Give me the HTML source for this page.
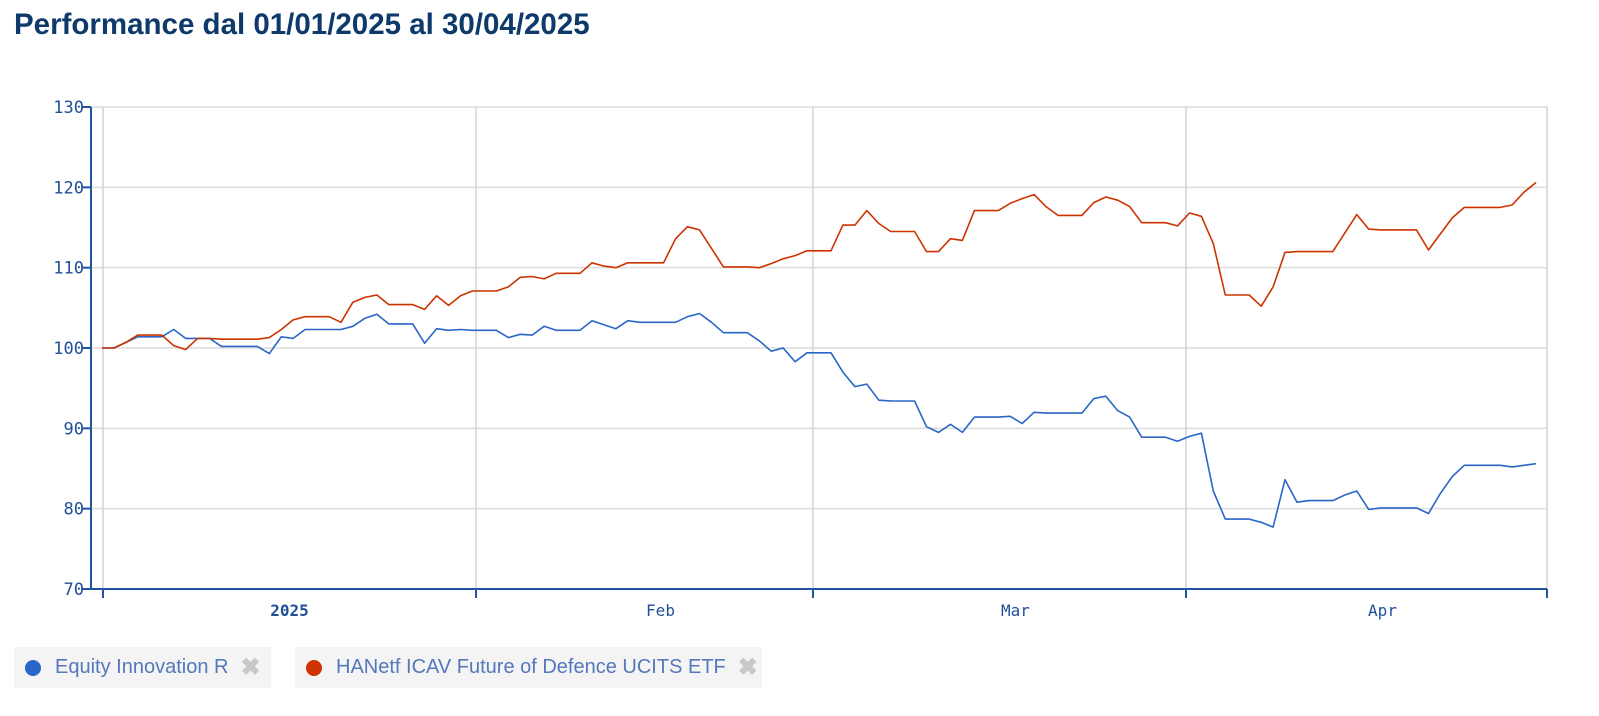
<!DOCTYPE html>
<html><head><meta charset="utf-8"><style>
body{margin:0;background:#fff;width:1599px;height:716px;overflow:hidden;font-family:"Liberation Sans",sans-serif}
#title{position:absolute;left:14px;top:8px;font-size:29.5px;font-weight:bold;color:#0d3a6b;margin:0}
.leg{position:absolute;top:647px;height:41px;background:#f4f4f4;display:flex;align-items:center;font-size:20px;color:#5577bb}
.dot{width:16px;height:16px;border-radius:50%;margin:0 14px 0 11px}
.x{color:#c8c8c8;font-weight:bold;font-size:24px;margin-left:12px}
</style></head><body>
<h1 id="title">Performance dal 01/01/2025 al 30/04/2025</h1>
<svg id="chart" width="1599" height="716" style="position:absolute;left:0;top:0"></svg>
<div class="leg" style="left:14px;width:257px"><span class="dot" style="background:#2a66c8"></span><span>Equity Innovation R</span><span class="x">✖</span></div>
<div class="leg" style="left:295px;width:467px"><span class="dot" style="background:#cc3300"></span><span>HANetf ICAV Future of Defence UCITS ETF</span><span class="x">✖</span></div>
<script>
const yTicks=[70,80,90,100,110,120,130];
const months=["2025","Feb","Mar","Apr"];
const monthDays=[0,31,59,90,120];
const equity=[100,100,100.7,101.4,101.4,101.4,102.3,101.2,101.2,101.2,100.2,100.2,100.2,100.2,99.3,101.4,101.2,102.3,102.3,102.3,102.3,102.7,103.7,104.2,103.0,103.0,103.0,100.6,102.4,102.2,102.3,102.2,102.2,102.2,101.3,101.7,101.6,102.7,102.2,102.2,102.2,103.4,102.9,102.4,103.4,103.2,103.2,103.2,103.2,103.9,104.3,103.2,101.9,101.9,101.9,100.9,99.6,100.0,98.3,99.4,99.4,99.4,97.0,95.2,95.5,93.5,93.4,93.4,93.4,90.2,89.5,90.5,89.5,91.4,91.4,91.4,91.5,90.6,92.0,91.9,91.9,91.9,91.9,93.7,94.0,92.2,91.4,88.9,88.9,88.9,88.4,89.0,89.4,82.2,78.7,78.7,78.7,78.3,77.7,83.6,80.8,81.0,81.0,81.0,81.7,82.2,79.9,80.1,80.1,80.1,80.1,79.4,81.9,84.0,85.4,85.4,85.4,85.4,85.2,85.4,85.6];
const defence=[100,100,100.7,101.6,101.6,101.6,100.3,99.8,101.2,101.2,101.1,101.1,101.1,101.1,101.3,102.3,103.5,103.9,103.9,103.9,103.2,105.7,106.3,106.6,105.4,105.4,105.4,104.8,106.5,105.3,106.5,107.1,107.1,107.1,107.6,108.8,108.9,108.6,109.3,109.3,109.3,110.6,110.2,110.0,110.6,110.6,110.6,110.6,113.6,115.1,114.7,112.4,110.1,110.1,110.1,110.0,110.5,111.1,111.5,112.1,112.1,112.1,115.3,115.3,117.1,115.5,114.5,114.5,114.5,112.0,112.0,113.6,113.4,117.1,117.1,117.1,118.0,118.6,119.1,117.6,116.5,116.5,116.5,118.1,118.8,118.4,117.6,115.6,115.6,115.6,115.2,116.8,116.4,113.0,106.6,106.6,106.6,105.2,107.6,111.9,112.0,112.0,112.0,112.0,114.3,116.6,114.8,114.7,114.7,114.7,114.7,112.2,114.2,116.2,117.5,117.5,117.5,117.5,117.8,119.4,120.6];
const NS="http://www.w3.org/2000/svg";
const svg=document.getElementById('chart');
const L=91,R=1547,T=107,B=589;
const y=v=>T+(130-v)*(B-T)/60;
const xDay=d=>103+d*(R-103)/120;
const xIdx=i=>102+i*(1536-102)/(equity.length-1);
function mk(tag,attrs){const e=document.createElementNS(NS,tag);for(const k in attrs)e.setAttribute(k,attrs[k]);svg.appendChild(e);return e;}
yTicks.forEach(v=>{
  if(v>70){const g=mk('line',{x1:L,x2:R,y1:y(v),y2:y(v),stroke:'#dcdcdc','stroke-width':1.5});
  
  }
  const t=mk('line',{x1:L-9,x2:L,y1:y(v),y2:y(v),stroke:'#1f55a0','stroke-width':2});
  
  
  const l=mk('text',{x:L-7,y:y(v)+6,'text-anchor':'end','font-size':17,fill:'#1f4f98','font-family':'DejaVu Sans Mono, monospace'});
  l.textContent=v;
  
  
});
monthDays.forEach((d,i)=>{
  const gx=xDay(d);
  const g=mk('line',{x1:gx,x2:gx,y1:T,y2:B,stroke:'#d4d4d4','stroke-width':1.5});
  
  
  const t=mk('line',{x1:gx,x2:gx,y1:B,y2:B+9,stroke:'#1f55a0','stroke-width':2});
  
  
});
months.forEach((m,i)=>{
  const cx=(xDay(monthDays[i])+xDay(monthDays[i+1]))/2+(i==0?0:16);
  const l=mk('text',{x:cx,y:616,'text-anchor':'middle','font-size':16,fill:'#1f4f98','font-family':'DejaVu Sans Mono, monospace','font-weight':i==0?'bold':'normal'});
  l.textContent=m;
  
  
});
const ya=mk('line',{x1:L,x2:L,y1:T,y2:B+1,stroke:'#1f55a0','stroke-width':2});


const xa=mk('line',{x1:L,x2:R,y1:B,y2:B,stroke:'#1f55a0','stroke-width':2});


function series(arr,col,name){
  const p=mk('polyline',{points:arr.map((v,i)=>xIdx(i).toFixed(1)+','+y(v).toFixed(1)).join(' '),fill:'none',stroke:col,'stroke-width':1.6,'stroke-linejoin':'round'});
  
  
}
series(equity,'#2a66c8','equity-innovation-line');
series(defence,'#cc3300','hanetf-defence-line');
</script>
</body></html>
